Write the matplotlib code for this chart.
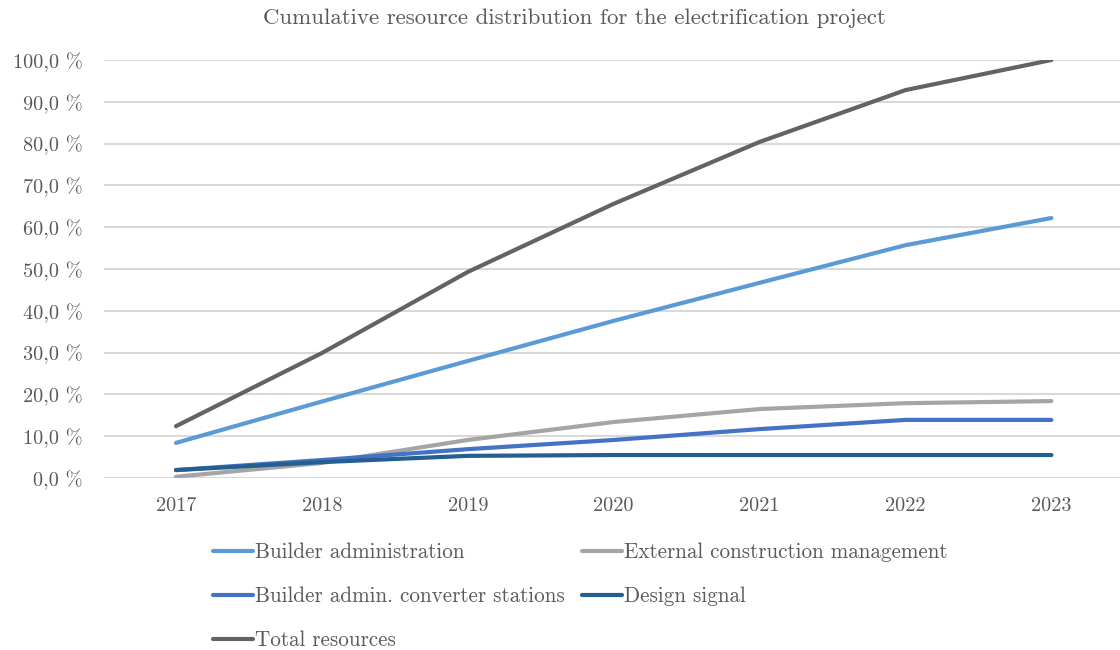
import numpy as np
import matplotlib
matplotlib.use("Agg")
import matplotlib.pyplot as plt

# data ------------------------------------------------------------------------------------------
years = ["2017", "2018", "2019", "2020", "2021", "2022", "2023"]

builder_admin = [8.4, 18.3, 28.0, 37.6, 46.7, 55.7, 62.2]
external_mgmt = [0.3, 3.6, 9.1, 13.4, 16.5, 17.9, 18.4]
builder_conv = [1.9, 4.3, 6.9, 9.1, 11.7, 13.9, 13.9]
design_signal = [1.9, 3.8, 5.3, 5.5, 5.5, 5.5, 5.5]
total_res = [12.4, 29.9, 49.3, 65.6, 80.4, 92.8, 100.0]

y_ticks = [0, 10, 20, 30, 40, 50, 60, 70, 80, 90, 100]
y_labels = ["0,0 %", "10,0 %", "20,0 %", "30,0 %", "40,0 %", "50,0 %",
            "60,0 %", "70,0 %", "80,0 %", "90,0 %", "100,0 %"]

# style -----------------------------------------------------------------------------------------
plt.rcParams['font.family'] = ['cmr10', 'DejaVu Serif']
txt = '#595959'

fig = plt.figure(figsize=(11.2, 6.5), dpi=100)
ax = fig.add_axes([0.0933, 0.2646, 0.9067, 0.6431])

x = np.arange(len(years))
l1, = ax.plot(x, builder_admin, color='#5B9BD5', lw=3, solid_capstyle='round', label='Builder administration')
l2, = ax.plot(x, external_mgmt, color='#A5A5A5', lw=3, solid_capstyle='round', label='External construction management')
l3, = ax.plot(x, builder_conv, color='#4472C4', lw=3, solid_capstyle='round', label='Builder admin. converter stations')
l4, = ax.plot(x, design_signal, color='#255E91', lw=3, solid_capstyle='round', label='Design signal')
l5, = ax.plot(x, total_res, color='#636363', lw=3, solid_capstyle='round', label='Total resources')

ax.set_xlim(-0.49, 6.47)
ax.set_ylim(0, 100)
ax.set_xticks(x)
ax.set_xticklabels(years)
ax.set_yticks(y_ticks)
ax.set_yticklabels(y_labels)
ax.tick_params(length=0, labelsize=14.6, labelcolor=txt)
ax.tick_params(axis='y', pad=16)
ax.tick_params(axis='x', pad=14)
ax.grid(axis='y', color='#D9D9D9', lw=1.5)
ax.set_axisbelow(True)
for s in ax.spines.values():
    s.set_visible(False)

fig.text(0.513, 0.972, 'Cumulative resource distribution for the electrification project',
         ha='center', va='center', fontsize=16.5, color=txt)

leg = fig.legend([l1, l3, l5, l2, l4],
                 [l1.get_label(), l3.get_label(), l5.get_label(), l2.get_label(), l4.get_label()],
                 ncol=2, loc='upper left', bbox_to_anchor=(0.19, 0.165),
                 frameon=False, fontsize=15.2, handlelength=1.9, handletextpad=0.1,
                 columnspacing=0.8, labelspacing=1.15, borderaxespad=0, borderpad=0)
for t in leg.get_texts():
    t.set_color(txt)

fig.savefig('out.png', dpi=100)
